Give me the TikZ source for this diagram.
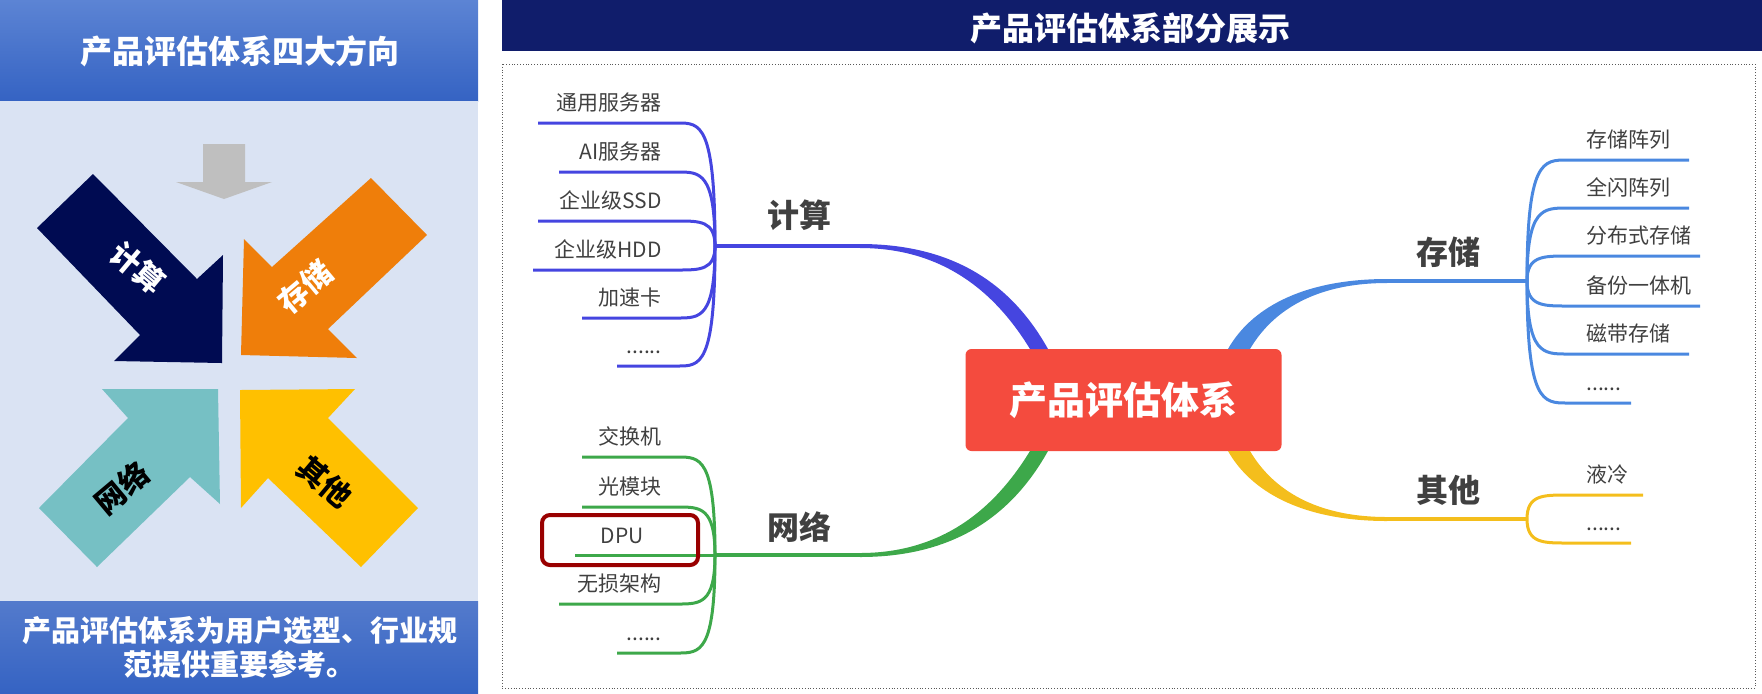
\documentclass[tikz,border=0pt]{standalone}
\usepackage{fontspec}
\setmainfont{Noto Sans CJK SC}
\definecolor{hdblue}{HTML}{3563C3}
\definecolor{hdtop}{HTML}{5C84D4}
\definecolor{panel}{HTML}{DAE3F3}
\definecolor{navy}{HTML}{101D6B}
\definecolor{darknavy}{HTML}{000B52}
\definecolor{orangear}{HTML}{EF7E0A}
\definecolor{tealar}{HTML}{76C0C4}
\definecolor{yellowar}{HTML}{FFC000}
\definecolor{hubred}{HTML}{F44B3E}
\definecolor{cblue}{HTML}{4545E0}
\definecolor{sblue}{HTML}{4A88E0}
\definecolor{ngreen}{HTML}{3DA84A}
\definecolor{oyellow}{HTML}{F4BE1C}
\definecolor{txtgray}{HTML}{404040}
\newcommand\leafdots{......}
\tikzset{
  leaftext/.style={font=\fontsize{10.5}{12}\selectfont, text=txtgray, inner sep=1pt},
  branchtext/.style={font=\fontsize{16}{18}\selectfont\bfseries, text=txtgray},
  arrowtext/.style={font=\fontsize{15}{16}\selectfont\bfseries, inner sep=0pt},
  leafline/.style={line width=1.5pt},
}
\begin{document}
\begin{tikzpicture}[x=0.5pt,y=-0.5pt]
\useasboundingbox (0,0) rectangle (1762,693);
% left panel
\shade[top color=hdtop, bottom color=hdblue] (0,0) rectangle (478,101);
\fill[panel] (0,101) rectangle (478,601);
\shade[top color=hdblue!85!white, bottom color=hdblue] (0,601) rectangle (478,693);
\node (lefttitle) [text=white, font=\fontsize{16}{18}\selectfont\bfseries] at (240,51) {产品评估体系四大方向};
\node (leftnote) [text=white, align=center, font=\fontsize{14.5}{17}\selectfont\bfseries] at (240,647) {产品评估体系为用户选型、行业规\\范提供重要参考。};
% arrows
\fill[gray!50] (203,144) -- (245,144) -- (245,182) -- (272,182) -- (224,199) -- (176,182) -- (203,182) -- cycle;
\fill[darknavy] (37,228) -- (93,174) -- (197,279) -- (223,255) -- (222,363) -- (114,361) -- (140,335) -- cycle;
\fill[orangear] (371,178) -- (427,235) -- (328,329) -- (357,358) -- (241,355) -- (244,239) -- (272,267) -- cycle;
\fill[tealar] (102,389) -- (218,389) -- (220,504) -- (190,477) -- (97,567) -- (39,508) -- (128,418) -- cycle;
\fill[yellowar] (240,390) -- (355,389) -- (328,418) -- (418,508) -- (361,567) -- (268,478) -- (241,508) -- cycle;
\node (arcomp) [arrowtext, text=white, rotate=-40] at (138,268) {计算};
\node (arstor) [arrowtext, text=white, rotate=40] at (305,287) {存储};
\node (arnet) [arrowtext, text=black, rotate=40] at (122,488) {网络};
\node (arother) [arrowtext, text=black, rotate=-40] at (325,482) {其他};
% right panel
\fill[navy] (502,0) rectangle (1762,51);
\node (righttitle) [text=white, font=\fontsize{16}{18}\selectfont\bfseries] at (1130,28) {产品评估体系部分展示};
\draw[gray!70!black, densely dotted] (502,64) rectangle (1755,688);
% centre
\node (hub) [fill=hubred, rounded corners=3pt, minimum width=158pt, minimum height=51pt, text=white, font=\fontsize{19}{20}\selectfont\bfseries] at (1123.5,400) {产品评估体系};
% main branches
\fill[cblue] (860,244) .. controls (960,244) and (1015,290) .. (1048,349) -- (1030,349) .. controls (1000,300) and (950,248) .. (860,248) -- cycle;
\fill[ngreen] (860,557) .. controls (960,557) and (1015,510) .. (1048,451) -- (1030,451) .. controls (1000,500) and (950,553) .. (860,553) -- cycle;
\fill[sblue] (1387,279) .. controls (1300,279) and (1250,310) .. (1228,349) -- (1250,349) .. controls (1270,315) and (1310,283) .. (1387,283) -- cycle;
\fill[oyellow] (1387,521) .. controls (1300,521) and (1250,490) .. (1228,451) -- (1250,451) .. controls (1270,485) and (1310,517) .. (1387,517) -- cycle;
\coordinate (hcomp) at (715,246);
\coordinate (hnet) at (715,555);
\coordinate (hstor) at (1527,281);
\coordinate (hother) at (1527,519);
\draw[cblue, line width=2pt] (hcomp) -- (862,246);
\draw[ngreen, line width=2pt] (hnet) -- (862,555);
\draw[sblue, line width=2pt] (1385,281) -- (hstor);
\draw[oyellow, line width=2pt] (1385,519) -- (hother);
\node (lcomp) [branchtext] at (799,215) {计算};
\node (lnet) [branchtext] at (799,527) {网络};
\node (lstor) [branchtext] at (1448,252) {存储};
\node (lother) [branchtext] at (1448,490) {其他};
% compute leaves
\foreach \y/\xl/\t [count=\i] in {123/538/通用服务器, 172/559/AI服务器, 221/538/企业级SSD, 270/533/企业级HDD, 318/582/加速卡, 366/617/\leafdots}{
  \coordinate (c\i) at (\xl,\y);
  \node (ct\i) [leaftext, anchor=base east] at (664,\y-13) {\t};
  \draw[cblue, leafline] (hcomp) .. controls (715,\y) and (700,\y) .. (678,\y) -- (c\i);
}
% network leaves
\foreach \y/\xl/\t [count=\i] in {457/582/交换机, 507/582/光模块, 604/559/无损架构, 653/617/\leafdots}{
  \coordinate (n\i) at (\xl,\y);
  \node (nt\i) [leaftext, anchor=base east] at (664,\y-13) {\t};
  \draw[ngreen, leafline] (hnet) .. controls (715,\y) and (700,\y) .. (678,\y) -- (n\i);
}
\coordinate (ndpu) at (575,555);
\node (ntdpu) [leaftext, anchor=base] at (622,543) {DPU};
\draw[ngreen, leafline] (hnet) -- (ndpu);
\node (dpubox) [draw=red!60!black, line width=2pt, rounded corners=4pt, minimum width=78pt, minimum height=25pt] at (620,540) {};
% storage leaves
\foreach \y/\xr/\t [count=\i] in {160/1689/存储阵列, 208/1689/全闪阵列, 256/1700/分布式存储, 306/1700/备份一体机, 354/1689/磁带存储, 403/1631/\leafdots}{
  \coordinate (s\i) at (\xr,\y);
  \node (st\i) [leaftext, anchor=base west] at (1584,\y-13) {\t};
  \draw[sblue, leafline] (hstor) .. controls (1527,\y) and (1543,\y) .. (1567,\y) -- (s\i);
}
% other leaves
\foreach \y/\xr/\t [count=\i] in {495/1643/液冷, 543/1631/\leafdots}{
  \coordinate (o\i) at (\xr,\y);
  \node (ot\i) [leaftext, anchor=base west] at (1584,\y-13) {\t};
  \draw[oyellow, leafline] (hother) .. controls (1527,\y) and (1543,\y) .. (1567,\y) -- (o\i);
}
\end{tikzpicture}
\end{document}
